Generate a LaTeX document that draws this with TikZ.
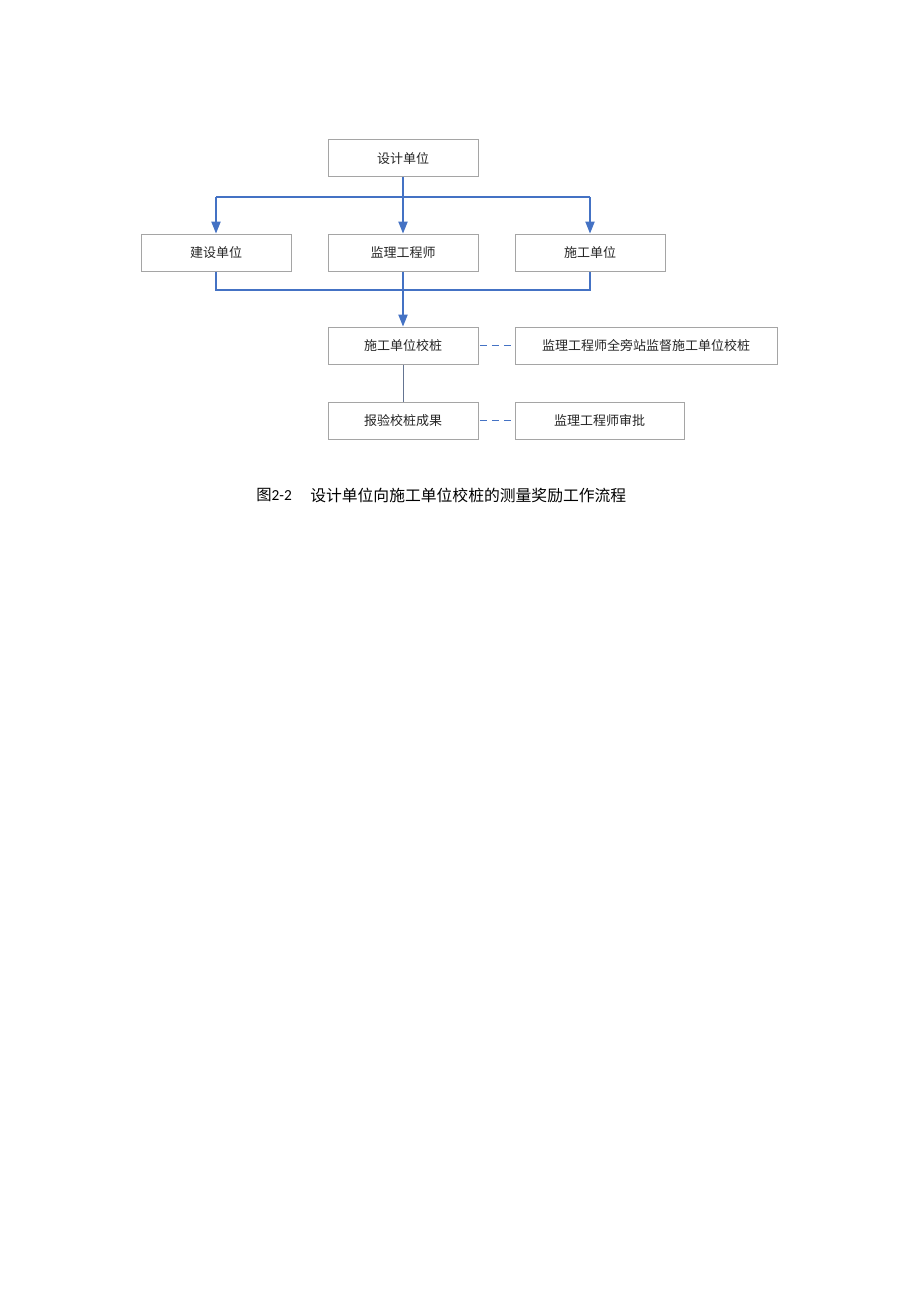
\documentclass[tikz,border=0pt]{standalone}
\usepackage{fontspec}
\setmainfont{Carlito}
\newfontfamily\cjk{Noto Sans CJK SC}
\usetikzlibrary{arrows.meta}
\definecolor{lineblue}{HTML}{4472C4}
\definecolor{boxgray}{HTML}{A5A5A5}
\begin{document}
\begin{tikzpicture}[x=0.75pt,y=-0.75pt,
  box/.style={draw=boxgray,line width=0.75pt,fill=white,minimum height=27.75pt,inner sep=0pt,font=\cjk\fontsize{9.75pt}{11pt}\selectfont,text=black!85},
  conn/.style={draw=lineblue,line width=0.8pt},
  arr/.style={conn,-{Triangle[width=7pt,length=9pt]}},
  dash line/.style={draw=lineblue,line width=0.9pt,dash pattern=on 5.5pt off 3.5pt,dash phase=-1pt}]
\useasboundingbox (0,0) rectangle (920,1302);
\fill[white] (0,0) rectangle (920,1302);
\node[box,minimum width=112.5pt] (sj) at (403,158.5) {设计单位};
\node[box,minimum width=112.5pt] (js) at (216,252.5) {建设单位};
\node[box,minimum width=112.5pt] (jl) at (403,252.5) {监理工程师};
\node[box,minimum width=112.5pt] (sg) at (590,252.5) {施工单位};
\node[box,minimum width=112.5pt] (xz) at (403,345.5) {施工单位校桩};
\node[box,minimum width=196.5pt] (pz) at (646,345.5) {监理工程师全旁站监督施工单位校桩};
\node[box,minimum width=112.5pt] (bj) at (403,420.5) {报验校桩成果};
\node[box,minimum width=126.75pt] (sp) at (599.5,420.5) {监理工程师审批};
\coordinate (t) at (403,197);
\coordinate (b) at (403,290);
\draw[conn] (sj.south) -- (t);
\draw[conn] (js.north |- t) -- (sg.north |- t);
\draw[arr] (js.north |- t) -- (js.north);
\draw[arr] (t) -- (jl.north);
\draw[arr] (sg.north |- t) -- (sg.north);
\draw[conn] (js.south) -- (js.south |- b) -- (sg.south |- b) -- (sg.south);
\draw[arr] (jl.south) -- (xz.north);
\draw[draw=lineblue!50!black!70,line width=0.75pt] (xz.south) -- (bj.north);
\draw[dash line] (xz.east) -- (pz.west);
\draw[dash line] (bj.east) -- (sp.west);
\node[anchor=west,inner sep=0pt,font=\fontsize{11.5pt}{13pt}\selectfont] (cap1) at (256,495) {{\cjk 图}2-2};
\node[anchor=west,inner sep=0pt,font=\cjk\fontsize{11.85pt}{13pt}\selectfont] (cap2) at (310,495) {设计单位向施工单位校桩的测量奖励工作流程};
\end{tikzpicture}
\end{document}
